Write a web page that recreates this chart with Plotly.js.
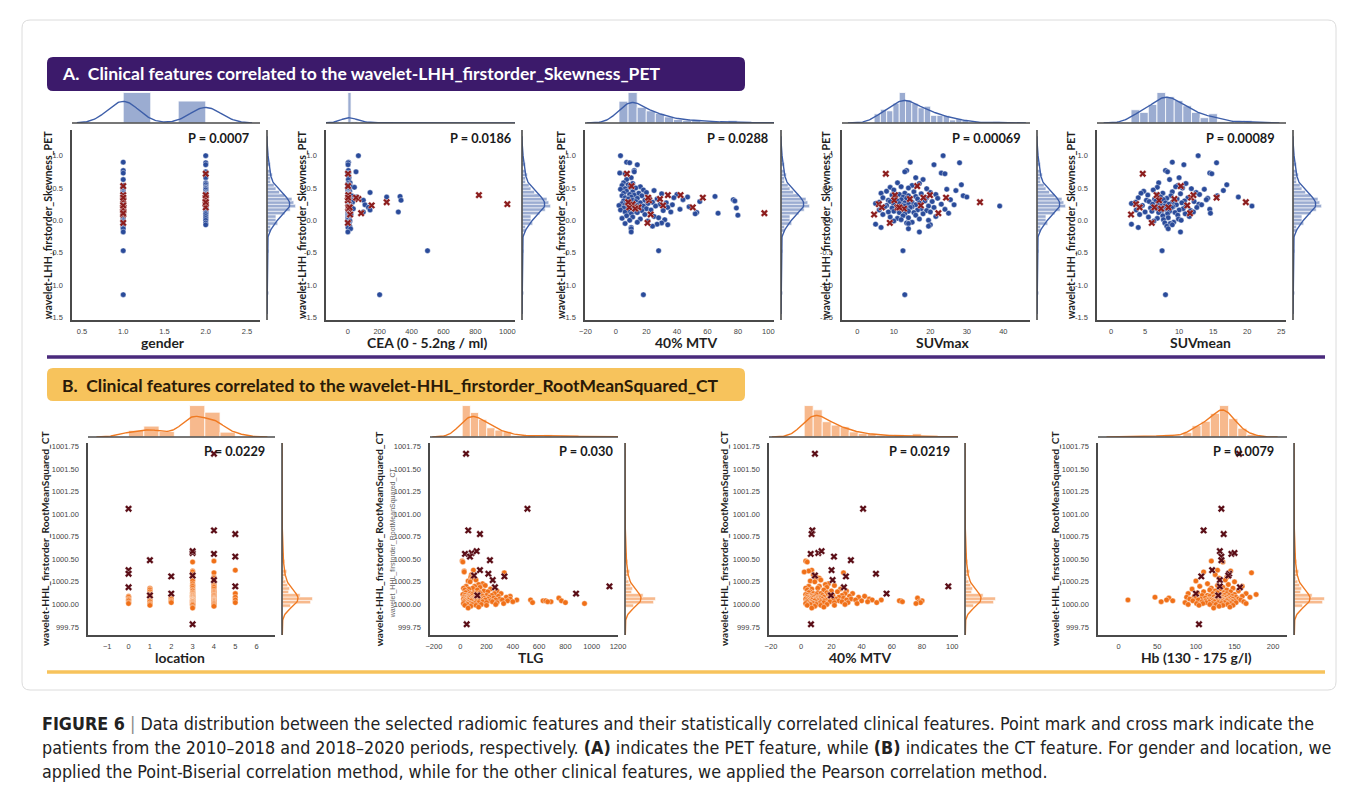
<!DOCTYPE html>
<html><head><meta charset="utf-8">
<script src="https://cdn.plot.ly/plotly-3.0.1.min.js"></script>
<style>html,body{margin:0;padding:0;background:#fff;}#chart{width:1355px;height:787px;}</style>
</head><body><div id="chart"></div>
<script>
// ================= Panel A data (wavelet-LHH_firstorder_Skewness_PET) =================
// patients 2010-2018 (points)
const skewBlue = [1.00,0.90,0.89,0.86,0.77,0.75,0.73,0.72,0.66,0.63,
0.58,0.57,0.55,0.54,0.52,0.51,0.50,0.49,0.48,0.47,
0.46,0.45,0.44,0.43,0.42,0.42,0.41,0.40,0.40,0.39,
0.38,0.38,0.37,0.36,0.36,0.35,0.35,0.34,0.34,0.33,
0.33,0.32,0.32,0.31,0.31,0.30,0.30,0.29,0.29,0.28,
0.28,0.27,0.27,0.26,0.26,0.25,0.25,0.25,0.24,0.24,
0.23,0.23,0.22,0.22,0.22,0.21,0.21,0.20,0.20,0.20,
0.19,0.19,0.18,0.18,0.17,0.17,0.16,0.16,0.15,0.15,
0.14,0.14,0.13,0.13,0.12,0.12,0.11,0.10,0.10,0.09,
0.08,0.07,0.06,0.05,0.04,0.03,0.02,0.01,0.00,-0.01,
-0.03,-0.04,-0.05,-0.06,-0.07,-0.09,-0.11,-0.13,-0.18,-0.47,-1.15];
const genderBlue = [2,1,2,2,1,2,1,2,2,1, 2,2,2,1,2,1,2,2,1,2, 1,1,2,1,1,2,2,2,1,1,
2,1,1,2,1,2,2,1,1,2, 1,1,2,1,1,2,1,1,2,1, 1,2,2,1,2,1,1,2,1,2, 1,1,2,2,1,2,1,1,2,1,
1,2,1,1,2,1,1,2,1,1, 2,2,1,2,1,1,2,1,1,2, 1,1,2,1,1,2,1,1,2,1, 1,2,1,1,2,1,1,1,1,1,1];
const ceaBlue = [67,5,3,2,4,52,6,1,8,4, 15,2,10,1,20,42,3,5,1,7, 2,12,4,140,1,6,2,9,3,1,
25,2,328,56,244,4,1,11,2,5, 1,18,3,98,334,6,2,1,14,4, 30,2,8,1,3,5,1,16,2,108,
7,3,1,9,2,22,4,130,1,6, 3,12,2,35,1,5,140,2,4,1, 8,3,98,317,2,10,1,5,3,20,
1,6,2,4,1,9,2,3,1,14, 5,2,8,1,3,12,2,18,1,500,200];
const mtvBlueA = [3,7,9,14,12,12,2.5,6,10,7, 5,11,8,4,16,9,13,6,3,18, 25,7,11,20,5,15,30,9,40,12,
4,17,65,47,10,38,6,22,14,8, 27,77,44,11,19,78,5,55,13,24, 8,16,33,4,21,9,29,12,6,37,
14,2,18,26,10,7,48,11,15,34, 79,5,20,9,13,42,23,3,17,31, 8,12,36,6,53,14,67,10,52,19,
80,7,25,11,28,4,16,32,9,21, 14,30,6,27,34,24,10,10,10,28,18];
const suvmaxBlue = [23.5,14.5,28,21,13.5,13,23,24,16,18, 11,17,28.5,15,12,9,14,19,24.5,10,
27,8,15.5,20,13,6.5,17.5,11.5,21.5,9.5, 14,29,16,30,12.5,19,7,13.5,22,10.5,
16.5,25.5,12,8.5,14.5,18.5,11,20.5,9,15, 6,13,17,5,11.5,14,23,10,26.5,16,
12.5,8,39,19.5,13,7.5,15,10.5,14.5,21, 12,9.5,17.5,11,13.5,24,16.5,6,12,19,
10,14,20,8.5,15.5,11.5,25,13,18,7, 16,12.5,21.5,9,14,11,17,12,19.5,10,
15,13.5,14,5,20,19.5,6.5,14,17,12.5,13];
const suvmeanBlue = [12.8,9,15.5,10.7,8,8.3,14.5,14.8,10,8.6, 7,11,17,9.8,9.5,6.8,10.5,11.8,13.7,6.2,
16.5,4.8,9,12.5,7.6,4.4,10.2,6.9,13,5.4, 8.8,15.6,7.1,18.7,7.3,11.3,4,8.2,14.2,6.4,
9.7,14,7.7,5.2,9.3,10.8,6.6,12.2,5.6,9, 3.6,8,10.4,3,7,8.5,12.9,6.1,13.3,9.6,
7.4,4.6,20.7,11,7.9,4.3,9.1,6.5,8.9,12.6, 7.2,5.8,10.6,6.7,8.1,14.5,10,3.7,7.5,11.7,
6,8.6,12.1,5,9.4,7,14.6,8.3,10.9,4.2, 9.8,7.6,11.5,5.5,8.4,6.8,9.9,7.7,10.3,6.3,
9.2,7.9,8.7,3,9,8.2,4,8.4,10.2,7.5,8];
// patients 2018-2020 (crosses)
const skewCross = [0.72,0.25,0.20,0.09,-0.04,0.39,0.31,0.20,0.18,0.20,0.33,0.53,0.23,0.11,0.35,0.39,0.35,0.28];
const genderCross = [2,2,1,1,1,1,1,1,1,2,2,1,1,1,2,2,1,2];
const ceaCross = [2,1000,3,15,1,822,1,5,6,12,67,2,150,84,52,4,3,244];
const mtvCrossA = [7.2,10.9,8.7,22.8,20.7,34.1,21.7,14.8,12.6,50.4,28.9,10.2,30.9,97.4,57,42.4,21.1,8.0];
const suvmaxCross = [7.8,5.9,6.7,4.6,8.9,10.3,10.1,11.0,12.8,11.5,14.4,16.4,17.4,22.2,18.1,19.9,24.3,33.6];
const suvmeanCross = [4.66,3.68,4.2,2.94,5.98,6.7,7.06,6.37,7.35,8.43,9.3,10.25,11.2,11.6,11.76,12.1,15.5,19.8];

// ================= Panel B data (wavelet-HHL_firstorder_RootMeanSquared_CT) =================
const rmsOrange = [1000.48,1000.47,1000.38,1000.37,1000.36,1000.35,1000.33,1000.30,1000.29,1000.27,
1000.26,1000.25,1000.23,1000.22,1000.21,1000.20,1000.20,1000.19,1000.18,1000.18,
1000.17,1000.17,1000.16,1000.16,1000.15,1000.15,1000.14,1000.14,1000.13,1000.13,
1000.13,1000.12,1000.12,1000.12,1000.12,1000.11,1000.11,1000.11,1000.10,1000.10,
1000.10,1000.10,1000.10,1000.09,1000.09,1000.09,1000.09,1000.09,1000.08,1000.08,
1000.08,1000.08,1000.08,1000.08,1000.08,1000.07,1000.07,1000.07,1000.07,1000.07,
1000.07,1000.07,1000.06,1000.06,1000.06,1000.06,1000.06,1000.06,1000.06,1000.06,
1000.05,1000.05,1000.05,1000.05,1000.05,1000.05,1000.05,1000.05,1000.05,1000.05,
1000.04,1000.04,1000.04,1000.04,1000.04,1000.04,1000.04,1000.04,1000.04,1000.03,
1000.03,1000.03,1000.03,1000.03,1000.03,1000.03,1000.03,1000.02,1000.02,1000.02,
1000.02,1000.02,1000.02,1000.02,1000.01,1000.01,1000.01,1000.01,1000.01,1000.01,
1000.00,1000.00,1000.00,1000.00,999.99,999.99,999.99,999.98,999.97,999.96];
const locOrange = [4,3,5,3,3,4,3,4,4,3, 3,4,3,4,3,4,3,4,1,3, 1,4,3,1,4,3,1,4,3,4, 3,5,1,4,3,3,4,1,3,4,
3,1,4,0,3,4,2,3,0,4, 5,3,1,2,3,4,3,1,3,4, 2,3,0,4,3,1,3,4,2,3, 5,3,4,3,1,4,3,0,3,4,
3,4,2,3,0,4,3,1,4,3, 4,3,2,4,3,1,3,5,0,4, 3,4,3,2,4,3,0,3,4,1, 3,4,3,1,3,4,1,4,3,3];
const tlgOrange = [15,20,100,30,30,335,85,80,90,120, 60,75,170,140,190,45,110,150,25,95,
230,65,35,130,180,280,55,210,100,150, 40,260,120,75,310,20,90,160,200,50,
130,240,35,380,85,170,60,290,110,45, 220,140,30,70,350,100,180,255,40,120,
750,65,160,25,300,90,210,130,380,55, 535,430,80,150,270,35,190,110,60,320,
630,650,100,40,230,770,140,85,360,690, 400,665,50,170,120,245,30,800,550,95,
280,60,140,200,45,110,25,330,75,945, 160,55,90,270,120,35,200,80,140,60];
const mtvOrangeB = [3,4,7,5,2,28,8,10,12,13, 6,9,18,16,22,5,12,17,3,11, 26,7,4,15,20,30,6,24,11,17,
5,29,13,8,34,3,10,18,21,6, 14,27,4,42,9,19,7,32,12,5, 25,15,4,8,38,11,20,28,5,13,
77,7,18,3,33,10,23,14,45,6, 53,47,9,16,30,4,21,12,7,36, 66,65,11,5,25,80,15,9,40,67,
44,78,6,19,13,27,4,79,50,10, 31,7,15,22,5,12,3,37,8,76, 17,6,10,29,13,4,22,9,15,7];
const hbOrange = [120,135,128,145,110,172,125,140,130,138, 100,150,115,142,128,105,160,135,120,148,
95,132,140,118,155,125,110,145,136,102, 128,165,90,140,122,178,133,150,115,143,
108,137,125,160,98,130,147,118,170,135, 47,123,140,88,152,112,132,127,145,100,
138,65,118,155,106,135,142,92,125,148, 12,130,62,115,140,120,158,135,103,126,
70,145,128,112,150,136,96,122,140,131, 117,55,147,134,108,162,124,139,86,143,
129,113,152,137,101,145,121,165,133,109, 126,141,90,118,135,148,104,130,144,123];
const rmsCross = [1001.67,1001.06,1000.82,1000.78,1000.56,1000.57,1000.59,1000.53,1000.49,1000.38,1000.34,1000.32,1000.31,1000.27,1000.19,1000.20,1000.12,1000.10,999.78];
const locCross = [4,0,4,5,4,3,3,5,1,0,0,3,2,4,0,5,2,1,3];
const tlgCross = [44,511,61,150,36,87,125,74,226,150,214,105,336,247,264,1135,881,130,49];
const mtvCrossB = [9.1,41,7.4,6.9,6.3,11.3,13.5,21.7,32.9,20.1,49.5,9.1,29.6,20.8,28.3,97.4,56.5,19.7,6.5];
const hbCross = [156,133,110,136,146,150,131,133,133,121,143,142,107,131,157,131,100,129,104];

// ================= Texts / tick labels =================
const yTickValsA = [-1.5,-1.0,-0.5,0.0,0.5,1.0];
const yTickTextA = ['-1.5','-1.0','-0.5','0.0','0.5','1.0'];
const yTickValsB = [999.75,1000.00,1000.25,1000.50,1000.75,1001.00,1001.25,1001.50,1001.75];
const yTickTextB = ['999.75','1000.00','1000.25','1000.50','1000.75','1001.00','1001.25','1001.50','1001.75'];
const pLabelsA = ['P = 0.0007','P = 0.0186','P = 0.0288','P = 0.00069','P = 0.00089'];
const pLabelsB = ['P = 0.0229','P = 0.030','P = 0.0219','P = 0.0079'];
const xTitlesA = ['gender','CEA (0 - 5.2ng / ml)','40% MTV','SUVmax','SUVmean'];
const xTitlesB = ['location','TLG','40% MTV','Hb (130 - 175 g/l)'];
const yTitleA = 'wavelet-LHH_firstorder_Skewness_PET';
const yTitleB = 'wavelet-HHL_firstorder_RootMeanSquared_CT';
const yTitleB2small = 'wavelet_HHL_firstorder_RootMeanSquared_CT';
const headerA = 'A.\u00a0 Clinical features correlated to the wavelet-LHH_firstorder_Skewness_PET';
const headerB = 'B.\u00a0 Clinical features correlated to the wavelet-HHL_firstorder_RootMeanSquared_CT';
const captionLines = [
 ['<b>FIGURE 6</b>',' <span style="color:#888">|</span> Data distribution between the selected radiomic features and their statistically correlated clinical features. Point mark and cross mark indicate the'],
 ['','patients from the 2010–2018 and 2018–2020 periods, respectively. <b>(A)</b> indicates the PET feature, while <b>(B)</b> indicates the CT feature. For gender and location, we'],
 ['','applied the Point-Biserial correlation method, while for the other clinical features, we applied the Pearson correlation method.']
];

// ================= helpers =================
const W=1355,H=787;
const PX=px=>px/W, PY=py=>1-py/H;
const cv=document.createElement('canvas').getContext('2d');
function tw(text,font){cv.font=font;return cv.measureText(text).width;}
function hasFont(name){const t='abcdefghijklmnopqrstuvwxyz ABCDEFGHIJ 0123456789';return tw(t,'40px monospace')!==tw(t,'40px "'+name+'", monospace');}
function fit(text,family,weight,target){const w=tw(text,weight+' 40px '+family);return 40*target/w;}

function kdeCurve(a){
  const n=a.length, m=a.reduce((s,v)=>s+v,0)/n;
  const sd=Math.sqrt(a.reduce((s,v)=>s+(v-m)*(v-m),0)/(n-1));
  const bw=sd*Math.pow(n,-0.2);
  const lo=Math.min(...a)-3*bw, hi=Math.max(...a)+3*bw, xs=[], ys=[];
  for(let i=0;i<200;i++){const x=lo+(hi-lo)*i/199;let s=0;for(const v of a){const z=(x-v)/bw;s+=Math.exp(-0.5*z*z);}xs.push(x);ys.push(s/(n*bw*Math.sqrt(2*Math.PI)));}
  return {xs,ys};
}
function histo(a,bins){
  const lo=Math.min(...a), hi=Math.max(...a), w=(hi-lo)/bins, c=new Array(bins).fill(0);
  a.forEach(v=>{let i=Math.floor((v-lo)/w+1e-9);if(i>=bins)i=bins-1;c[i]++;});
  return {centers:c.map((_,i)=>lo+w*(i+0.5)), dens:c.map(v=>v/(a.length*w)), w};
}

const LATO = hasFont('Lato') ? 'Lato' : 'Liberation Sans';
const TICKF = {family:'Liberation Sans, Arial, sans-serif', size:7.5, color:'#444'};
const titleSize = fit('CEA (0 - 5.2ng / ml)', LATO, 'bold', 121);
const pSize = fit('P = 0.00069', LATO, 'bold', 69);
const yTitleSizeA = fit(yTitleA, LATO, 'bold', 188);
const yTitleSizeB = fit(yTitleB, LATO, 'bold', 215);

const panelA = {y:skewBlue, yc:skewCross, yrange:[-1.542,1.397], tv:yTickValsA, tt:yTickTextA, ybins:40,
  top:130, bot:320, mTop:91, mBot:123, mW:30,
  dot:'#2a4b9a', cross:'#8c1d1d', hist:'rgba(72,104,172,0.55)', kde:'#3d5ea9'};
const panelB = {y:rmsOrange, yc:rmsCross, yrange:[999.661,1001.789], tv:yTickValsB, tt:yTickTextB, ybins:50,
  top:443, bot:635, mTop:404, mBot:437, mW:32,
  dot:'#f07018', cross:'#5a0d16', hist:'rgba(240,128,48,0.55)', kde:'#f07a22'};

const subA = [
 {L:72, R:260, x:genderBlue, xc:genderCross, range:[0.379,2.658], dtick:0.5, tick0:0.5, fmt:'.1f', bins:3, pR:251, tC:163, yT:47},
 {L:326,R:515, x:ceaBlue, xc:ceaCross, range:[-136,1048], dtick:200, tick0:0, fmt:'d', bins:50, pR:513, tC:427.6, yT:300.7},
 {L:585,R:774, x:mtvBlueA, xc:mtvCrossA, range:[-20.3,103.7], dtick:20, tick0:0, fmt:'d', bins:16, pR:770, tC:686, yT:559.7},
 {L:842,R:1030,x:suvmaxBlue, xc:suvmaxCross, range:[-4.2,47.3], dtick:10, tick0:0, fmt:'d', bins:20, pR:1023, tC:942.5, yT:825},
 {L:1097,R:1286,x:suvmeanBlue, xc:suvmeanCross, range:[-2.06,25.7], dtick:5, tick0:0, fmt:'d', bins:14, pR:1277, tC:1200.5, yT:1070}
];
const subB = [
 {L:88, R:275, x:locOrange, xc:locCross, range:[-1.9,6.86], dtick:1, tick0:0, fmt:'d', bins:7, pR:266.7, tC:180, yT:45},
 {L:430,R:618, x:tlgOrange, xc:tlgCross, range:[-230,1200], dtick:200, tick0:0, fmt:'d', bins:18, pR:615, tC:530, yT:379.3},
 {L:769,R:958, x:mtvOrangeB, xc:mtvCrossB, range:[-21.3,103.8], dtick:20, tick0:0, fmt:'d', bins:16, pR:951.7, tC:860, yT:724},
 {L:1098,R:1287,x:hbOrange, xc:hbCross, range:[-26.8,218], dtick:50, tick0:0, fmt:'d', bins:14, pR:1276, tC:1196, yT:1055}
];

const traces=[], shapes=[], annotations=[];
const layout = {width:W, height:H, margin:{l:0,r:0,t:0,b:0}, paper_bgcolor:'#fff', plot_bgcolor:'rgba(0,0,0,0)',
  showlegend:false, hovermode:false, barmode:'overlay', bargap:0};
const axName=(p,i)=>p+(i===1?'':i);

let idx=0;
function addJoint(s, P, pLabel, xTitle, yTitle){
  const xa=2*idx+1, xr=2*idx+2, ya=2*idx+1, yt=2*idx+2; idx++;
  const xn=axName('x',xa), xrn=axName('x',xr), yan=axName('y',ya), ytn=axName('y',yt);
  const xs=s.x.concat(s.xc), ys=P.y.concat(P.yc);
  const ht=histo(xs,s.bins), kt=kdeCurve(xs), hr=histo(ys,P.ybins), kr=kdeCurve(ys);
  const topMax=Math.max(...ht.dens, ...kt.ys), rMax=Math.max(...hr.dens, ...kr.ys);
  traces.push({type:'bar', x:ht.centers, y:ht.dens, width:ht.w, xaxis:xn, yaxis:ytn,
    marker:{color:P.hist, line:{color:'#fff', width:0.8}}});
  traces.push({type:'scatter', mode:'lines', x:kt.xs, y:kt.ys, xaxis:xn, yaxis:ytn, line:{color:P.kde, width:1.4}});
  traces.push({type:'bar', orientation:'h', y:hr.centers, x:hr.dens, width:hr.w, xaxis:xrn, yaxis:yan,
    marker:{color:P.hist, line:{color:'#fff', width:0.6}}});
  traces.push({type:'scatter', mode:'lines', x:kr.ys, y:kr.xs, xaxis:xrn, yaxis:yan, line:{color:P.kde, width:1.4}});
  traces.push({type:'scatter', mode:'markers', x:s.x, y:P.y, xaxis:xn, yaxis:yan,
    marker:{size:5.5, color:P.dot, line:{color:'#fff', width:0.4}}});
  traces.push({type:'scatter', mode:'markers', x:s.xc, y:P.yc, xaxis:xn, yaxis:yan,
    marker:{symbol:'x', size:6.5, color:P.cross, line:{color:'rgba(255,255,255,0.8)', width:0.5}}});
  const base={showgrid:false, zeroline:false, fixedrange:true};
  layout[axName('xaxis',xa)] = Object.assign({}, base, {domain:[PX(s.L),PX(s.R)], range:s.range, anchor:yan,
    showline:true, linecolor:'#4a4a4a', linewidth:1.6, ticks:'outside', ticklen:3, tickcolor:'rgba(0,0,0,0)',
    tickfont:TICKF, dtick:s.dtick, tick0:s.tick0, tickformat:s.fmt});
  layout[axName('yaxis',ya)] = Object.assign({}, base, {domain:[PY(P.bot),PY(P.top)], range:P.yrange, anchor:xn,
    showline:true, linecolor:'#4a4a4a', linewidth:1.6, ticks:'outside', ticklen:6, tickcolor:'rgba(0,0,0,0)',
    tickfont:TICKF, tickmode:'array', tickvals:P.tv, ticktext:P.tt});
  layout[axName('yaxis',yt)] = Object.assign({}, base, {domain:[PY(P.mBot),PY(P.mTop)], range:[0,topMax*1.05], anchor:xn, visible:false});
  layout[axName('xaxis',xr)] = Object.assign({}, base, {domain:[PX(s.R+7),PX(s.R+7+P.mW)], range:[0,rMax*1.05], anchor:yan, visible:false});
  shapes.push({type:'line', xref:'paper', yref:'paper', x0:PX(s.L), x1:PX(s.R), y0:PY(P.mBot), y1:PY(P.mBot), line:{color:'#4a4a4a', width:1.6}});
  shapes.push({type:'line', xref:'paper', yref:'paper', x0:PX(s.R+7), x1:PX(s.R+7), y0:PY(P.bot), y1:PY(P.top), line:{color:'#4a4a4a', width:1.6}});
  annotations.push({xref:'paper', yref:'paper', x:PX(s.pR), y:PY(P.top+7.5), xanchor:'right', yanchor:'middle', showarrow:false,
    text:'<b>'+pLabel+'</b>', font:{family:LATO, size:pSize, color:'#1a1a1a'}});
  annotations.push({xref:'paper', yref:'paper', x:PX(s.tC), y:PY(P.bot+22), xanchor:'center', yanchor:'middle', showarrow:false,
    text:'<b>'+xTitle+'</b>', font:{family:LATO, size:titleSize, color:'#1f1f1f'}});
  annotations.push({xref:'paper', yref:'paper', x:PX(s.yT), y:PY((P.top+P.bot)/2), xanchor:'center', yanchor:'middle', showarrow:false,
    textangle:-90, text:'<b>'+yTitle+'</b>', font:{family:LATO, size:(P===panelA?yTitleSizeA:yTitleSizeB), color:'#1f1f1f'}});
}
subA.forEach((s,i)=>addJoint(s,panelA,pLabelsA[i],xTitlesA[i],yTitleA));
subB.forEach((s,i)=>addJoint(s,panelB,pLabelsB[i],xTitlesB[i],yTitleB));
annotations.push({xref:'paper', yref:'paper', x:PX(393.3), y:PY(543), xanchor:'center', yanchor:'middle', showarrow:false,
  textangle:-90, text:yTitleB2small, font:{family:'Liberation Sans, Arial, sans-serif', size:7, color:'#666'}});

// ---------- headers, dividers, frame ----------
function rr(x0,y0,x1,y1,r){
  const p=(x,y)=>PX(x)+','+PY(y);
  return 'M'+p(x0+r,y0)+' L'+p(x1-r,y0)+' Q'+p(x1,y0)+' '+p(x1,y0+r)+' L'+p(x1,y1-r)+' Q'+p(x1,y1)+' '+p(x1-r,y1)+
   ' L'+p(x0+r,y1)+' Q'+p(x0,y1)+' '+p(x0,y1-r)+' L'+p(x0,y0+r)+' Q'+p(x0,y0)+' '+p(x0+r,y0)+' Z';
}
shapes.push({type:'path', xref:'paper', yref:'paper', path:rr(22,20,1336,690,8), line:{color:'#dcdcdc', width:1}, fillcolor:'rgba(0,0,0,0)', layer:'below'});
shapes.push({type:'path', xref:'paper', yref:'paper', path:rr(47,57,745,91,6), line:{width:0}, fillcolor:'#3c1a6b', layer:'below'});
shapes.push({type:'path', xref:'paper', yref:'paper', path:rr(47,368,745,401,6), line:{width:0}, fillcolor:'#f7c35c', layer:'below'});
shapes.push({type:'line', xref:'paper', yref:'paper', x0:PX(47), x1:PX(1325), y0:PY(357), y1:PY(357), line:{color:'#4a2a7c', width:3.5}});
shapes.push({type:'line', xref:'paper', yref:'paper', x0:PX(47), x1:PX(1325), y0:PY(672), y1:PY(672), line:{color:'#f7c35c', width:3.5}});
const hSize = fit(headerA.replace('\u00a0',' '), LATO, 'bold', 598);
annotations.push({xref:'paper', yref:'paper', x:PX(60), y:PY(74), xanchor:'left', yanchor:'middle', showarrow:false,
  text:'<b>'+headerA+'</b>', font:{family:LATO, size:hSize, color:'#ffffff'}});
annotations.push({xref:'paper', yref:'paper', x:PX(60), y:PY(385), xanchor:'left', yanchor:'middle', showarrow:false,
  text:'<b>'+headerB+'</b>', font:{family:LATO, size:hSize, color:'#2a1a08'}});

// ---------- caption ----------
const CAPF = ['Liberation Sans Narrow','DejaVu Sans Condensed','Liberation Sans'].find(hasFont) || 'Liberation Sans';
const strip=s=>s.replace(/<[^>]+>/g,'');
const lineW = l => tw(strip(l[0]),'bold 40px "'+CAPF+'"') + tw(strip(l[1]).replace(/\((A|B)\)/g,''),'40px "'+CAPF+'"') +
  (l[1].includes('(A)') ? 2*tw('(A)','bold 40px "'+CAPF+'"') : 0);
const capSize = Math.min(40*1291/lineW(captionLines[0]), 40*1290/lineW(captionLines[1]));
const capY=[724,748,772];
captionLines.forEach((l,i)=>annotations.push({xref:'paper', yref:'paper', x:PX(40), y:PY(capY[i]), xanchor:'left', yanchor:'middle',
  showarrow:false, align:'left', text:l[0]+l[1], font:{family:CAPF, size:capSize, color:'#222'}}));

layout.shapes=shapes; layout.annotations=annotations;
Plotly.newPlot('chart', traces, layout, {staticPlot:true, displayModeBar:false});
</script></body></html>
